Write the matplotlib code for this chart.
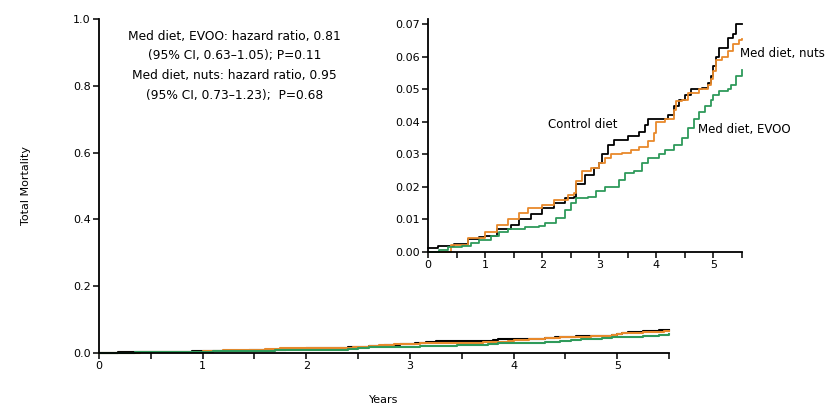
import numpy as np
import matplotlib
matplotlib.use("Agg")
import matplotlib.pyplot as plt
from matplotlib.ticker import FormatStrFormatter, MultipleLocator

# Step data (years, cumulative mortality)
control_t = [0, 0.18, 0.45, 0.7, 0.9, 1.0, 1.2, 1.45, 1.6, 1.8, 2.0, 2.2, 2.4, 2.55,
             2.6, 2.75, 2.9, 3.0, 3.05, 3.15, 3.25, 3.5, 3.7, 3.8, 3.85, 4.15, 4.2,
             4.3, 4.4, 4.5, 4.6, 4.8, 4.9, 4.95, 5.0, 5.05, 5.1, 5.25, 5.35, 5.4, 5.5]
control_v = [0.0012, 0.0017, 0.0025, 0.004, 0.0045, 0.005, 0.007, 0.0084, 0.010, 0.0118,
             0.0135, 0.015, 0.0166, 0.017, 0.021, 0.0237, 0.0258, 0.0273, 0.030, 0.033,
             0.0345, 0.0355, 0.037, 0.039, 0.041, 0.041, 0.042, 0.0447, 0.0468, 0.0483,
             0.050, 0.0503, 0.052, 0.054, 0.057, 0.060, 0.0626, 0.0657, 0.067, 0.070, 0.070]

nuts_t = [0, 0.4, 0.7, 1.0, 1.2, 1.4, 1.6, 1.75, 2.0, 2.2, 2.45, 2.55, 2.6, 2.7, 2.85,
          3.0, 3.1, 3.2, 3.4, 3.55, 3.7, 3.85, 3.95, 4.0, 4.15, 4.3, 4.35, 4.45, 4.55,
          4.75, 4.9, 4.95, 5.0, 5.05, 5.15, 5.25, 5.35, 5.45, 5.5]
nuts_v = [0.0, 0.0023, 0.0043, 0.0063, 0.0084, 0.010, 0.012, 0.0135, 0.0145, 0.016,
          0.0176, 0.018, 0.0217, 0.0248, 0.0258, 0.0273, 0.029, 0.030, 0.0304, 0.0314,
          0.0324, 0.034, 0.0365, 0.040, 0.041, 0.0437, 0.0463, 0.0468, 0.0488, 0.050,
          0.0514, 0.053, 0.0555, 0.059, 0.060, 0.0616, 0.064, 0.065, 0.0655]

evoo_t = [0, 0.2, 0.35, 0.6, 0.75, 0.9, 1.1, 1.25, 1.4, 1.7, 1.95, 2.05, 2.25, 2.4, 2.5,
          2.6, 2.8, 2.95, 3.1, 3.35, 3.45, 3.6, 3.75, 3.85, 4.05, 4.15, 4.3, 4.45, 4.55,
          4.65, 4.75, 4.85, 4.95, 5.0, 5.1, 5.25, 5.3, 5.4, 5.5]
evoo_v = [0.0, 0.0007, 0.0015, 0.0017, 0.0028, 0.0038, 0.0048, 0.0063, 0.0072, 0.0076,
          0.0079, 0.009, 0.0104, 0.013, 0.015, 0.0166, 0.017, 0.0186, 0.020, 0.022,
          0.0243, 0.0248, 0.0273, 0.029, 0.030, 0.0314, 0.033, 0.035, 0.038, 0.041,
          0.043, 0.0447, 0.0468, 0.0483, 0.0493, 0.050, 0.0514, 0.054, 0.056]

series = [
    (control_t, control_v, "black"),
    (nuts_t, nuts_v, "#e8892b"),
    (evoo_t, evoo_v, "#2e9a5a"),
]

plt.rcParams['font.family'] = ['DejaVu Sans']
plt.rcParams['font.size'] = 8

fig = plt.figure(figsize=(8.36, 4.07), dpi=100)


def style_axes(ax):
    for s in ("top", "right"):
        ax.spines[s].set_visible(False)
    for s in ("left", "bottom"):
        ax.spines[s].set_linewidth(1.3)
    ax.tick_params(direction="out", width=1.1, length=4, pad=2)
    ax.tick_params(which="minor", direction="out", width=1.1, length=4)
    ax.xaxis.set_major_locator(MultipleLocator(1))
    ax.xaxis.set_minor_locator(MultipleLocator(0.5))
    ax.set_xlim(0, 5.5)


# main plot
ax = fig.add_axes([0.1184, 0.1327, 0.682, 0.8206])
style_axes(ax)
for t, v, c in series:
    ax.step(t, v, where="post", color=c, lw=1.5, clip_on=False)
ax.set_ylim(0, 1.0)
ax.set_yticks([0, 0.2, 0.4, 0.6, 0.8, 1.0])
ax.yaxis.set_major_formatter(FormatStrFormatter("%.1f"))
ax.set_xlabel("Years", labelpad=17)
ax.set_ylabel("Total Mortality", labelpad=30)

ann = ["Med diet, EVOO: hazard ratio, 0.81",
       "(95% CI, 0.63\u20131.05); P=0.11",
       "Med diet, nuts: hazard ratio, 0.95",
       "(95% CI, 0.73\u20131.23);  P=0.68"]
for line, y in zip(ann, [0.949, 0.892, 0.832, 0.772]):
    ax.text(1.31, y, line, ha="center", va="center", fontsize=8.8)

# inset
ins = fig.add_axes([0.512, 0.3808, 0.3756, 0.560])
style_axes(ins)
for t, v, c in series:
    ins.step(t, v, where="post", color=c, lw=1.3, clip_on=False)
ins.set_ylim(0, 0.07)
ins.set_yticks(np.arange(0, 0.071, 0.01))
ins.yaxis.set_major_formatter(FormatStrFormatter("%.2f"))
ins.spines["left"].set_bounds(0, 0.0715)

ins.text(2.1, 0.0393, "Control diet", ha="left", va="center", fontsize=8.5)
ins.text(5.47, 0.0611, "Med diet, nuts", ha="left", va="center", fontsize=8.5)
ins.text(4.72, 0.0375, "Med diet, EVOO", ha="left", va="center", fontsize=8.5)

fig.savefig("out.png", dpi=100)
